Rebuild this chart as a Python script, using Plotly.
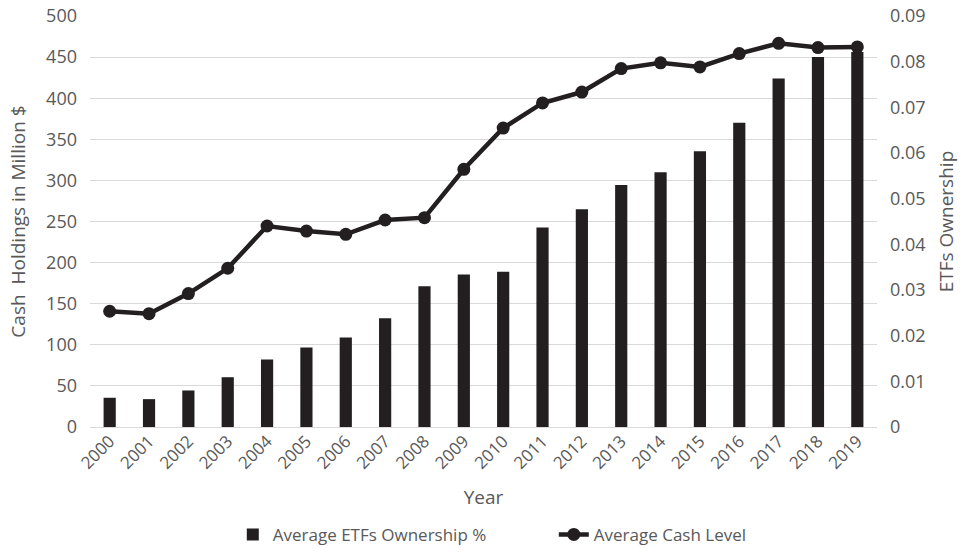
import plotly.graph_objects as go

years = [str(y) for y in range(2000, 2020)]
etf_ownership = [0.0064, 0.0061, 0.0080, 0.0109, 0.0148, 0.0174, 0.0196, 0.0238, 0.0308, 0.0334,
                 0.0340, 0.0437, 0.0477, 0.0530, 0.0558, 0.0604, 0.0666, 0.0763, 0.0810, 0.0821]
cash_level = [140.8, 137.9, 162.3, 193.1, 244.5, 238.4, 234.4, 251.8, 254.7, 313.5,
              363.7, 394.2, 407.5, 436.0, 443.0, 438.0, 454.3, 466.8, 461.6, 462.4]

dark = "#231f20"
gray = "#595959"
font_family = "Open Sans"

fig = go.Figure()
fig.add_trace(go.Bar(
    x=years, y=etf_ownership, name="Average ETFs Ownership %",
    marker=dict(color=dark, line=dict(width=0)), yaxis="y2",
))
fig.add_trace(go.Scatter(
    x=years, y=cash_level, name="Average Cash Level", mode="lines+markers",
    line=dict(color=dark, width=4.5), marker=dict(color=dark, size=13), yaxis="y",
))

fig.update_layout(
    width=970, height=552,
    margin=dict(l=90, r=93, t=16, b=125),
    paper_bgcolor="white", plot_bgcolor="white",
    font=dict(family=font_family, color=gray, size=16),
    bargap=0.69,
    showlegend=True,
    legend=dict(orientation="h", xref="container", yref="container", x=0.24, y=0.031,
                xanchor="left", yanchor="middle", font=dict(size=17, color=gray),
                entrywidth=276, entrywidthmode="pixels", tracegroupgap=0),
    xaxis=dict(
        type="category", range=[-0.5, len(years) - 0.5], tickangle=-45,
        showgrid=False, showline=False, ticks="",
        tickfont=dict(size=17, color=gray), automargin=True,
        title=dict(text="Year", font=dict(size=19, color=gray), standoff=18),
    ),
    yaxis=dict(
        range=[0, 500], dtick=50, side="left", overlaying="y2",
        showgrid=True, gridcolor="#d9d9d9", gridwidth=1.3, zeroline=True, zerolinecolor="#d9d9d9",
        zerolinewidth=1.3, showline=False, ticks="", ticklabelstandoff=12, automargin=False,
        tickfont=dict(size=18, color=gray),
        title=dict(text="Cash  Holdings in Million $", font=dict(size=19, color=gray)),
    ),
    yaxis2=dict(
        range=[0, 0.09], dtick=0.01, side="right", anchor="x",
        showgrid=False, zeroline=False, showline=False, ticks="", ticklabelstandoff=12,
        tickformat="~g", automargin=False,
        tickfont=dict(size=18, color=gray),
        title=dict(text="ETFs Ownership", font=dict(size=19, color=gray)),
    ),
)

fig.write_html("out.html")
